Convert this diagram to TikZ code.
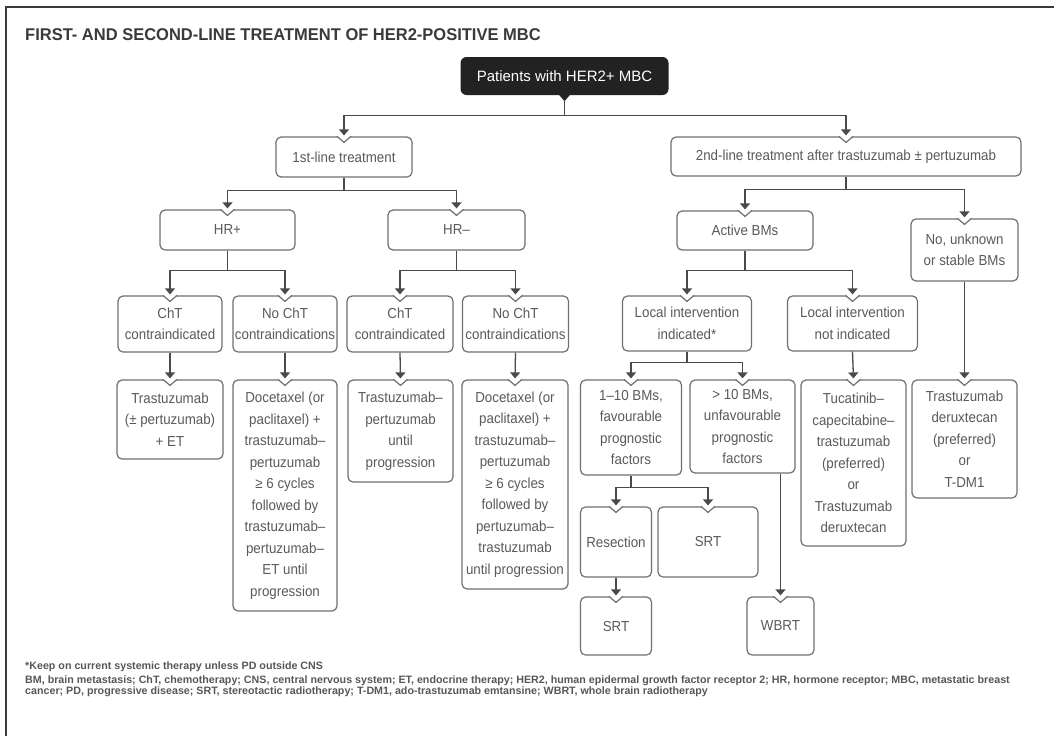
\documentclass[tikz,border=0pt]{standalone}
\usepackage{fontspec}
\usepackage{tikz}
\usetikzlibrary{arrows.meta,calc}
\setmainfont{Liberation Sans}
\newfontfamily\boxfont[FakeStretch=0.92]{Liberation Sans}
\newfontfamily\titlefont[FakeStretch=0.97]{Liberation Sans}
\definecolor{boxgray}{HTML}{707070}
\definecolor{txtgray}{HTML}{5A5A5A}
\definecolor{linegray}{HTML}{4A4A4A}
\definecolor{rootfill}{HTML}{222222}
\definecolor{titlegray}{HTML}{3A3A3A}
\tikzset{
  box/.style={draw=boxgray,line width=1.2pt,rounded corners=5pt,fill=white,
    align=center,text=txtgray,inner sep=2pt,
    font=\boxfont\fontsize{14.5}{21.5}\selectfont},
  conn/.style={draw=linegray,line width=1.3pt},
  arr/.style={conn,-{Triangle[width=10pt,length=6pt]},shorten >=1pt},
  foot/.style={anchor=west,inner sep=0pt,text=titlegray!85,
    font=\bfseries\fontsize{10.7}{12}\selectfont}
}
\newcommand{\boxnotch}[1]{%
  \fill[white] ($(#1.north)+(-7,-1)$) -- ($(#1.north)+(7,-1)$) -- ($(#1.north)+(0,6)$) -- cycle;
  \draw[draw=boxgray,line width=1.2pt] ($(#1.north)+(-7,0)$) -- ($(#1.north)+(0,6)$) -- ($(#1.north)+(7,0)$);}

\begin{document}
\begin{tikzpicture}[x=1pt,y=-1pt]
  \useasboundingbox (0,0) rectangle (1054,736);
  \draw[draw=titlegray,line width=1.5pt] (6,736) -- (6,7) -- (1054,7);

  \node[anchor=west,inner sep=0pt,text=titlegray,font=\titlefont\bfseries\fontsize{17}{20}\selectfont]
    (title) at (25,35) {FIRST- AND SECOND-LINE TREATMENT OF HER2-POSITIVE MBC};

  % root
  \node[fill=rootfill,rounded corners=6pt,text=white,minimum width=208pt,minimum height=38pt,
    font=\fontsize{15}{18}\selectfont] (root) at (564.5,76) {Patients with HER2+ MBC};
  \fill[rootfill] ($(root.south)+(-6,-1)$) -- ($(root.south)+(6,-1)$) -- ($(root.south)+(0,6)$) -- cycle;

  \begin{scope}[every node/.style={box}]
    \node[minimum width=136pt,minimum height=40pt] (first)  at (344,157)   {1st-line treatment};
    \node[minimum width=350pt,minimum height=39pt] (second) at (846,156.5) {2nd-line treatment after trastuzumab ± pertuzumab};

    \node[minimum width=135pt,minimum height=40pt] (hrpos)  at (227.5,230) {HR+};
    \node[minimum width=137pt,minimum height=40pt] (hrneg)  at (456.5,230) {HR–};
    \node[minimum width=136pt,minimum height=39pt] (active) at (745,230.5) {Active BMs};
    \node[minimum width=107pt,minimum height=62pt] (stable) at (964.5,250) {No, unknown\\or stable BMs};

    \node[minimum width=104pt,minimum height=56pt] (chtA)   at (170,324)   {ChT\\contraindicated};
    \node[minimum width=104pt,minimum height=56pt] (nochtA) at (285,324)   {No ChT\\contraindications};
    \node[minimum width=106pt,minimum height=56pt] (chtB)   at (400,324)   {ChT\\contraindicated};
    \node[minimum width=106pt,minimum height=56pt] (nochtB) at (515.5,324) {No ChT\\contraindications};
    \node[minimum width=129pt,minimum height=55pt] (lii)    at (687,323.5) {Local intervention\\indicated*};
    \node[minimum width=130pt,minimum height=55pt] (lini)   at (852.5,323.5) {Local intervention\\not indicated};

    \node[minimum width=106pt,minimum height=79pt]  (trtA) at (170,419.5) {Trastuzumab\\(± pertuzumab)\\+ ET};
    \node[minimum width=104pt,minimum height=231pt] (trtB) at (285,495.5) {Docetaxel (or\\paclitaxel) +\\trastuzumab–\\pertuzumab\\≥ 6 cycles\\followed by\\trastuzumab–\\pertuzumab–\\ET until\\progression};
    \node[minimum width=105pt,minimum height=102pt] (trtC) at (400.5,431) {Trastuzumab–\\pertuzumab\\until\\progression};
    \node[minimum width=106pt,minimum height=209pt] (trtD) at (515,484.5) {Docetaxel (or\\paclitaxel) +\\trastuzumab–\\pertuzumab\\≥ 6 cycles\\followed by\\pertuzumab–\\trastuzumab\\until progression};
    \node[minimum width=101pt,minimum height=95pt]  (few)  at (631,427.5) {1–10 BMs,\\favourable\\prognostic\\factors};
    \node[minimum width=105pt,minimum height=93pt]  (many) at (742.5,426.5) {> 10 BMs,\\unfavourable\\prognostic\\factors};
    \node[minimum width=105pt,minimum height=166pt] (tuc)  at (853.5,463) {Tucatinib–\\capecitabine–\\trastuzumab\\(preferred)\\or\\Trastuzumab\\deruxtecan};
    \node[minimum width=105pt,minimum height=118pt] (tdxd) at (964.5,439) {Trastuzumab\\deruxtecan\\(preferred)\\or\\T-DM1};

    \node[minimum width=71pt,minimum height=70pt]  (resect) at (616,542) {Resection};
    \node[minimum width=100pt,minimum height=70pt] (srtA)   at (708,542) {SRT};
    \node[minimum width=71pt,minimum height=58pt]  (srtB)   at (616,626) {SRT};
    \node[minimum width=67pt,minimum height=58pt]  (wbrt)   at (780.5,626) {WBRT};
  \end{scope}

  % notches where arrows come in
  \foreach \n in {first,second,hrpos,hrneg,active,stable,chtA,nochtA,chtB,nochtB,lii,lini,
                  trtA,trtB,trtC,trtD,few,many,tuc,tdxd,resect,srtA,srtB,wbrt}
    {\boxnotch{\n}}

  % connectors
  \draw[conn] ($(root.south)+(0,5)$) -- ++(0,15);
  \draw[arr] ($(root.south)+(0,5)$) -- ++(0,15) -| (first.north);
  \draw[arr] ($(root.south)+(0,5)$) -- ++(0,15) -| (second.north);

  \draw[arr] (first.south) -- ++(0,13) -| (hrpos.north);
  \draw[arr] (first.south) -- ++(0,13) -| (hrneg.north);
  \draw[arr] (hrpos.south) -- ++(0,20) -| (chtA.north);
  \draw[arr] (hrpos.south) -- ++(0,20) -| (nochtA.north);
  \draw[arr] (hrneg.south) -- ++(0,20) -| (chtB.north);
  \draw[arr] (hrneg.south) -- ++(0,20) -| (nochtB.north);
  \draw[arr] (chtA.south) -- (trtA.north);
  \draw[arr] (nochtA.south) -- (trtB.north);
  \draw[arr] (chtB.south) -- (trtC.north);
  \draw[arr] (nochtB.south) -- (trtD.north);

  \draw[arr] (second.south) -- ++(0,13) -| (active.north);
  \draw[arr] (second.south) -- ++(0,13) -| (stable.north);
  \draw[arr] (active.south) -- ++(0,20) -| (lii.north);
  \draw[arr] (active.south) -- ++(0,20) -| (lini.north);
  \draw[arr] (stable.south) -- (tdxd.north);
  \draw[arr] (lini.south) -- (tuc.north);
  \draw[arr] (lii.south) -- ++(0,11) -| (few.north);
  \draw[arr] (lii.south) -- ++(0,11) -| (many.north);
  \draw[arr] (few.south) -- ++(0,12) -| (resect.north);
  \draw[arr] (few.south) -- ++(0,12) -| (srtA.north);
  \draw[arr] (resect.south) -- (srtB.north);
  \draw[arr] (many.south -| wbrt.north) -- (wbrt.north);

  % footnotes
  \node[foot] (note)  at (25,667) {*Keep on current systemic therapy unless PD outside CNS};
  \node[foot] (abbrA) at (25,681) {BM, brain metastasis; ChT, chemotherapy; CNS, central nervous system; ET, endocrine therapy; HER2, human epidermal growth factor receptor 2; HR, hormone receptor; MBC, metastatic breast};
  \node[foot] (abbrB) at (25,692) {cancer; PD, progressive disease; SRT, stereotactic radiotherapy; T-DM1, ado-trastuzumab emtansine; WBRT, whole brain radiotherapy};
\end{tikzpicture}
\end{document}
